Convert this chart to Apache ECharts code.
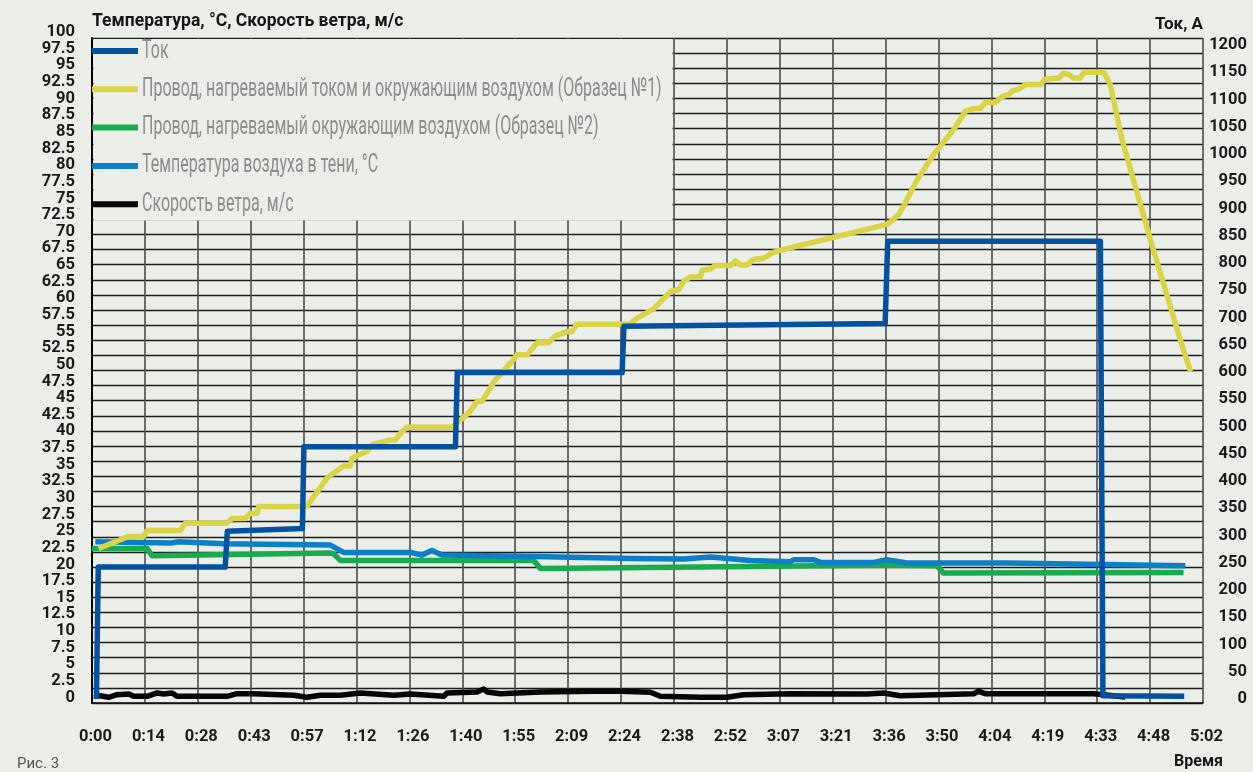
<!DOCTYPE html>
<html>
<head>
<meta charset="utf-8">
<script src="https://cdn.jsdelivr.net/npm/echarts@6/dist/echarts.min.js"></script>
<style>
  html, body { margin: 0; padding: 0; background: #eceee9; }
  #chart { width: 1253px; height: 772px; }
</style>
</head>
<body>
<div id="chart"></div>
<script>
// Time axis tick labels (h:mm), one per grid column boundary
const timeLabels = ['0:00', '0:14', '0:28', '0:43', '0:57', '1:12', '1:26', '1:40', '1:55', '2:09', '2:24',
  '2:38', '2:52', '3:07', '3:21', '3:36', '3:50', '4:04', '4:19', '4:33', '4:48', '5:02'];
const totalMinutes = 302;

const seriesNames = [
  'Ток',
  'Провод, нагреваемый током и окружающим воздухом (Образец №1)',
  'Провод, нагреваемый окружающим воздухом (Образец №2)',
  'Температура воздуха в тени, °С',
  'Скорость ветра, м/с'
];

// Current, A  — [minutes, amperes]
const currentA = [[1.2, 0], [1.7, 242], [36.2, 242], [36.8, 308], [57.2, 313], [57.6, 463], [98.8, 463],
  [99.3, 599], [144.1, 599], [144.6, 684], [215.6, 689], [216.3, 840], [274.1, 840], [274.8, 6], [296.9, 5]];

// Sample 1: wire heated by current and ambient air, °C
const sample1 = [[1.8, 22.4], [9.9, 24.2], [14.0, 24.2], [15.0, 25.1], [24.0, 25.1], [25.4, 26.2], [36.7, 26.2],
  [38.1, 26.9], [41.7, 26.9], [43.0, 27.7], [44.9, 27.7], [45.3, 28.7], [58.4, 28.7], [63.9, 33.0], [68.4, 34.8],
  [70.2, 34.8], [70.7, 36.0], [74.8, 37.0], [76.1, 38.0], [81.1, 38.7], [82.5, 38.7], [83.8, 39.7], [85.6, 40.6],
  [97.9, 40.6], [102.8, 43.0], [104.7, 44.5], [106.0, 44.5], [109.6, 47.7], [114.6, 50.8], [115.5, 51.5],
  [118.3, 51.5], [121.0, 53.3], [124.1, 53.3], [125.9, 54.3], [129.1, 55.0], [130.5, 55.0], [131.8, 56.1],
  [146.3, 56.1], [148.2, 57.0], [152.7, 58.4], [157.2, 61.0], [159.5, 61.3], [160.8, 62.5], [162.6, 63.2],
  [165.4, 63.2], [165.8, 64.2], [168.1, 64.4], [169.4, 64.9], [173.5, 64.9], [174.9, 65.6], [176.2, 65.0],
  [178.1, 65.0], [179.8, 65.8], [182.6, 66.0], [184.8, 66.8], [187.1, 67.2], [216.1, 71.1], [217.5, 71.7],
  [219.3, 72.6], [220.6, 73.8], [224.3, 77.8], [228.8, 81.6], [234.2, 85.3], [237.4, 88.1], [239.7, 88.5],
  [241.5, 88.5], [242.8, 89.4], [245.5, 89.4], [247.4, 90.3], [249.2, 90.6], [250.1, 91.1], [251.9, 91.4],
  [253.7, 92.1], [257.8, 92.1], [259.1, 92.9], [262.8, 93.1], [264.1, 93.8], [265.5, 93.6], [266.8, 93.1],
  [268.7, 93.1], [269.6, 93.9], [275.0, 94.0], [276.8, 92.1], [280.0, 83.8], [287.7, 68.8], [295.8, 53.8],
  [298.6, 49.0]];

// Sample 2: wire heated by ambient air only, °C
const sample2 = [[0, 22.4], [15.0, 22.4], [16.3, 21.3], [64.8, 21.7], [65.7, 21.6], [67.5, 20.6], [120.0, 20.6],
  [121.9, 19.4], [178.9, 19.7], [215.2, 19.9], [229.7, 19.8], [231.5, 18.7], [296.7, 18.8]];

// Shade air temperature, °C
const airTemp = [[0.9, 23.4], [21.3, 23.2], [23.5, 23.4], [35.8, 23.1], [64.8, 22.9], [68.4, 21.8], [86.5, 21.8],
  [89.7, 21.4], [92.4, 22.1], [95.1, 21.4], [120.0, 21.2], [147.2, 20.9], [160.8, 20.8], [168.1, 21.1],
  [178.9, 20.6], [189.8, 20.4], [190.7, 20.7], [196.2, 20.7], [198.0, 20.3], [212.5, 20.3], [216.1, 20.7],
  [221.5, 20.2], [248.7, 20.2], [297.2, 19.8]];

// Wind speed, m/s
const windSpeed = [[1.4, 0.33], [4.5, 0.03], [6.8, 0.42], [10.0, 0.53], [11.3, 0.18], [15.0, 0.18], [17.7, 0.68],
  [19.5, 0.53], [21.8, 0.68], [23.1, 0.18], [36.7, 0.18], [39.4, 0.57], [43.9, 0.57], [54.8, 0.33], [58.4, 0.03],
  [62.1, 0.33], [67.5, 0.33], [72.9, 0.68], [82.0, 0.33], [86.5, 0.53], [95.6, 0.18], [96.5, 0.68], [104.7, 0.83],
  [106.5, 1.28], [107.4, 0.83], [111.0, 0.57], [121.9, 0.83], [136.4, 0.93], [143.6, 0.93], [151.8, 0.78],
  [154.5, 0.18], [165.4, 0.03], [172.6, 0.03], [177.1, 0.42], [189.8, 0.57], [210.7, 0.53], [215.2, 0.68],
  [219.7, 0.27], [239.7, 0.57], [241.0, 0.93], [242.8, 0.57], [272.3, 0.57], [280.9, 0.08]];

const colors = ['#0451a0', '#dad446', '#1aaa50', '#0b80c8', '#050505'];
const BG = '#eceee9';
const FONT = 'Roboto, "DejaVu Sans", sans-serif';

// Legend rows: 38.3 px apart
const legendTop = 51, legendStep = 38.3, legendTextX = 142;

const chart = echarts.init(document.getElementById('chart'));

const lineSeries = (idx, xi, yi, data) => ({
  name: seriesNames[idx],
  type: 'line',
  xAxisIndex: xi,
  yAxisIndex: yi,
  data: data,
  showSymbol: false,
  symbol: 'none',
  lineStyle: { color: colors[idx], width: 5.5, join: 'round' },
  itemStyle: { color: colors[idx] },
  z: 3
});

// Condensed legend captions (the legend itself draws only the colour swatches)
const legendCaptions = seriesNames.map((name, i) => ({
  type: 'text',
  z: 2,
  x: legendTextX,
  y: legendTop + i * legendStep,
  scaleX: 0.615,
  style: { text: name, fontFamily: 'Roboto', fontSize: 26, fill: '#8d8d8d', verticalAlign: 'middle', align: 'left' }
}));

const tickText = { fontSize: 16.5, fontWeight: 'bold', color: '#1a1a1a' };

chart.setOption({
  backgroundColor: BG,
  animation: false,
  textStyle: { fontFamily: FONT },
  title: [
    {
      text: 'Рис. 3', left: 17, top: 757, padding: 0,
      textStyle: { fontFamily: FONT, fontSize: 15, fontWeight: 'normal', color: '#555' }
    },
    {
      text: 'Ток, А', right: 50, top: 16, padding: 0,
      textStyle: { fontFamily: FONT, fontSize: 17, fontWeight: 'bold', color: '#161616' }
    }
  ],
  legend: {
    orient: 'vertical',
    left: 92,
    top: legendTop - 13,
    padding: 0,
    itemWidth: 46,
    itemHeight: 6,
    itemGap: legendStep - 26,
    icon: 'rect',
    selectedMode: false,
    data: seriesNames,
    formatter: () => ' ',
    textStyle: { fontSize: 22, lineHeight: 26, color: '#8d8d8d' }
  },
  graphic: [{
    type: 'rect',
    z: 1,
    shape: { x: 93.5, y: 39, width: 579, height: 181.5 },
    style: { fill: BG }
  }].concat(legendCaptions),
  grid: [
    { left: 92, right: 50, top: 38, bottom: 69 },
    { left: 92, right: 50, top: 32, bottom: 74.5 },
    { left: 92, right: 50, top: 45, bottom: 73 }
  ],
  xAxis: [
    {
      gridIndex: 0, type: 'value', min: 0, max: timeLabels.length - 1, interval: 1,
      axisLine: { show: true, lineStyle: { color: '#111', width: 1.5 } },
      axisTick: { show: false },
      splitLine: { show: true, lineStyle: { color: '#4d4d4d', width: 1.6 } },
      axisLabel: Object.assign({
        formatter: v => timeLabels[Math.round(v)],
        showMinLabel: true, showMaxLabel: true,
        margin: 25, padding: [0, 0, 0, 7]
      }, tickText),
      name: 'Время', nameLocation: 'end', nameGap: 20,
      nameTextStyle: { align: 'right', verticalAlign: 'top', padding: [51, 0, 0, 0], fontSize: 16, fontWeight: 'bold', color: '#161616' }
    },
    { gridIndex: 1, type: 'value', min: 0, max: totalMinutes, show: false },
    { gridIndex: 2, type: 'value', min: 0, max: totalMinutes, show: false }
  ],
  yAxis: [
    {
      gridIndex: 0, type: 'value', min: 0, max: 44, interval: 1,
      axisLine: { show: true, lineStyle: { color: '#000', width: 2 } },
      axisTick: { show: false }, axisLabel: { show: false },
      splitLine: { show: true, lineStyle: { color: '#1c1c1c', width: 1.3 } }
    },
    {
      // Temperature / wind scale: inner ticks 2.5 … 97.5
      gridIndex: 1, type: 'value', min: 0, max: 100, interval: 2.5,
      axisLine: { show: false }, axisTick: { show: false }, splitLine: { show: false },
      axisLabel: Object.assign({ margin: 17, showMinLabel: false, showMaxLabel: false }, tickText),
      name: 'Температура, °С, Скорость ветра, м/с', nameLocation: 'end', nameGap: 10,
      nameTextStyle: { align: 'left', verticalAlign: 'middle', fontSize: 17.5, fontWeight: 'bold', color: '#161616' }
    },
    {
      // Same scale, end ticks 0 and 100
      gridIndex: 1, type: 'value', position: 'left', min: 0, max: 100, interval: 100,
      axisLine: { show: false }, axisTick: { show: false }, splitLine: { show: false },
      axisLabel: Object.assign({ margin: 17, showMinLabel: true, showMaxLabel: true }, tickText)
    },
    {
      gridIndex: 2, type: 'value', position: 'right', min: 0, max: 1200, interval: 50,
      axisLine: { show: false }, axisTick: { show: false }, splitLine: { show: false },
      axisLabel: Object.assign({
        formatter: v => String(v), showMinLabel: true, showMaxLabel: true,
        margin: 44, align: 'right'
      }, tickText)
    }
  ],
  series: [
    lineSeries(4, 1, 1, windSpeed),
    lineSeries(2, 1, 1, sample2),
    lineSeries(3, 1, 1, airTemp),
    lineSeries(1, 1, 1, sample1),
    lineSeries(0, 2, 3, currentA)
  ]
});
</script>
</body>
</html>
